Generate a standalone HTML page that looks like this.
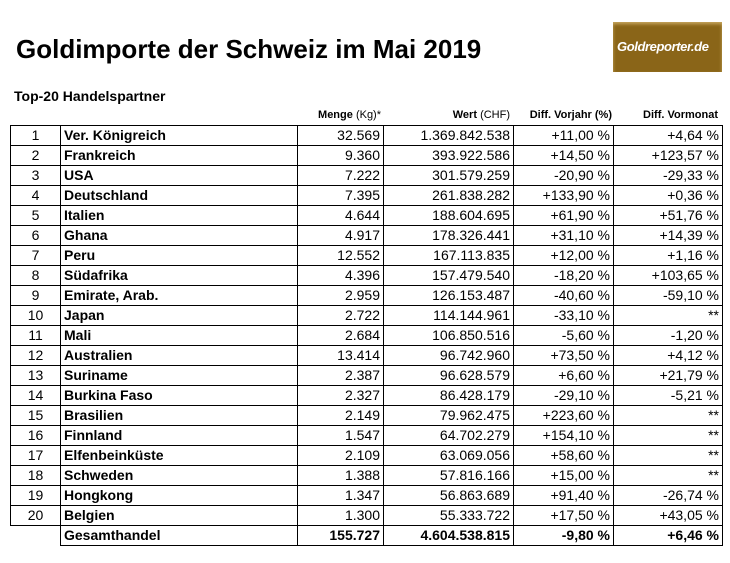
<!DOCTYPE html>
<html><head><meta charset="utf-8"><style>
body{margin:0;width:730px;height:563px;background:#fff;position:relative;font-family:"Liberation Sans",Arial,sans-serif;color:#000;overflow:hidden}
.t{position:absolute;white-space:nowrap}
table{position:absolute;left:10px;top:125px;border-collapse:collapse;table-layout:fixed}
td{height:19px;padding:0 3px;border:1px solid #000;font-size:14px;line-height:19px;white-space:nowrap;overflow:hidden}
td.c{text-align:center}
td.r{text-align:right}
td.b{font-weight:bold}
tr.tot td.n{border:none;border-right:1px solid #000}
.h{position:absolute;top:109px;font-size:11px;font-weight:bold;white-space:nowrap}
.h span{font-weight:normal}
</style></head><body>
<div class="t" style="left:16px;top:34px;font-size:26px;font-weight:bold">Goldimporte der Schweiz im Mai 2019</div>
<div class="t" style="left:14px;top:88px;font-size:14px;font-weight:bold">Top-20 Handelspartner</div>
<div style="position:absolute;left:613px;top:22px;width:109px;height:50px;background:#8a6518;box-shadow:inset 0 2px 3px #c8a860"></div>
<div class="t" style="left:617px;top:39px;font-size:13px;font-style:italic;font-weight:bold;color:#fff;letter-spacing:-0.4px">Goldreporter.de</div>
<div class="h" style="right:349px">Menge <span>(Kg)*</span></div>
<div class="h" style="right:220px">Wert <span>(CHF)</span></div>
<div class="h" style="right:118px">Diff. Vorjahr (%)</div>
<div class="h" style="right:12px">Diff. Vormonat</div>
<table>
<colgroup><col style="width:50px"><col style="width:237px"><col style="width:86px"><col style="width:130px"><col style="width:100px"><col style="width:109px"></colgroup>
<tr><td class="c">1</td><td class="b">Ver. Königreich</td><td class="r">32.569</td><td class="r">1.369.842.538</td><td class="r">+11,00 %</td><td class="r">+4,64 %</td></tr>
<tr><td class="c">2</td><td class="b">Frankreich</td><td class="r">9.360</td><td class="r">393.922.586</td><td class="r">+14,50 %</td><td class="r">+123,57 %</td></tr>
<tr><td class="c">3</td><td class="b">USA</td><td class="r">7.222</td><td class="r">301.579.259</td><td class="r">-20,90 %</td><td class="r">-29,33 %</td></tr>
<tr><td class="c">4</td><td class="b">Deutschland</td><td class="r">7.395</td><td class="r">261.838.282</td><td class="r">+133,90 %</td><td class="r">+0,36 %</td></tr>
<tr><td class="c">5</td><td class="b">Italien</td><td class="r">4.644</td><td class="r">188.604.695</td><td class="r">+61,90 %</td><td class="r">+51,76 %</td></tr>
<tr><td class="c">6</td><td class="b">Ghana</td><td class="r">4.917</td><td class="r">178.326.441</td><td class="r">+31,10 %</td><td class="r">+14,39 %</td></tr>
<tr><td class="c">7</td><td class="b">Peru</td><td class="r">12.552</td><td class="r">167.113.835</td><td class="r">+12,00 %</td><td class="r">+1,16 %</td></tr>
<tr><td class="c">8</td><td class="b">Südafrika</td><td class="r">4.396</td><td class="r">157.479.540</td><td class="r">-18,20 %</td><td class="r">+103,65 %</td></tr>
<tr><td class="c">9</td><td class="b">Emirate, Arab.</td><td class="r">2.959</td><td class="r">126.153.487</td><td class="r">-40,60 %</td><td class="r">-59,10 %</td></tr>
<tr><td class="c">10</td><td class="b">Japan</td><td class="r">2.722</td><td class="r">114.144.961</td><td class="r">-33,10 %</td><td class="r">**</td></tr>
<tr><td class="c">11</td><td class="b">Mali</td><td class="r">2.684</td><td class="r">106.850.516</td><td class="r">-5,60 %</td><td class="r">-1,20 %</td></tr>
<tr><td class="c">12</td><td class="b">Australien</td><td class="r">13.414</td><td class="r">96.742.960</td><td class="r">+73,50 %</td><td class="r">+4,12 %</td></tr>
<tr><td class="c">13</td><td class="b">Suriname</td><td class="r">2.387</td><td class="r">96.628.579</td><td class="r">+6,60 %</td><td class="r">+21,79 %</td></tr>
<tr><td class="c">14</td><td class="b">Burkina Faso</td><td class="r">2.327</td><td class="r">86.428.179</td><td class="r">-29,10 %</td><td class="r">-5,21 %</td></tr>
<tr><td class="c">15</td><td class="b">Brasilien</td><td class="r">2.149</td><td class="r">79.962.475</td><td class="r">+223,60 %</td><td class="r">**</td></tr>
<tr><td class="c">16</td><td class="b">Finnland</td><td class="r">1.547</td><td class="r">64.702.279</td><td class="r">+154,10 %</td><td class="r">**</td></tr>
<tr><td class="c">17</td><td class="b">Elfenbeinküste</td><td class="r">2.109</td><td class="r">63.069.056</td><td class="r">+58,60 %</td><td class="r">**</td></tr>
<tr><td class="c">18</td><td class="b">Schweden</td><td class="r">1.388</td><td class="r">57.816.166</td><td class="r">+15,00 %</td><td class="r">**</td></tr>
<tr><td class="c">19</td><td class="b">Hongkong</td><td class="r">1.347</td><td class="r">56.863.689</td><td class="r">+91,40 %</td><td class="r">-26,74 %</td></tr>
<tr><td class="c">20</td><td class="b">Belgien</td><td class="r">1.300</td><td class="r">55.333.722</td><td class="r">+17,50 %</td><td class="r">+43,05 %</td></tr>
<tr class="tot"><td class="n"></td><td class="b">Gesamthandel</td><td class="r b">155.727</td><td class="r b">4.604.538.815</td><td class="r b">-9,80 %</td><td class="r b">+6,46 %</td></tr>
</table>
</body></html>
